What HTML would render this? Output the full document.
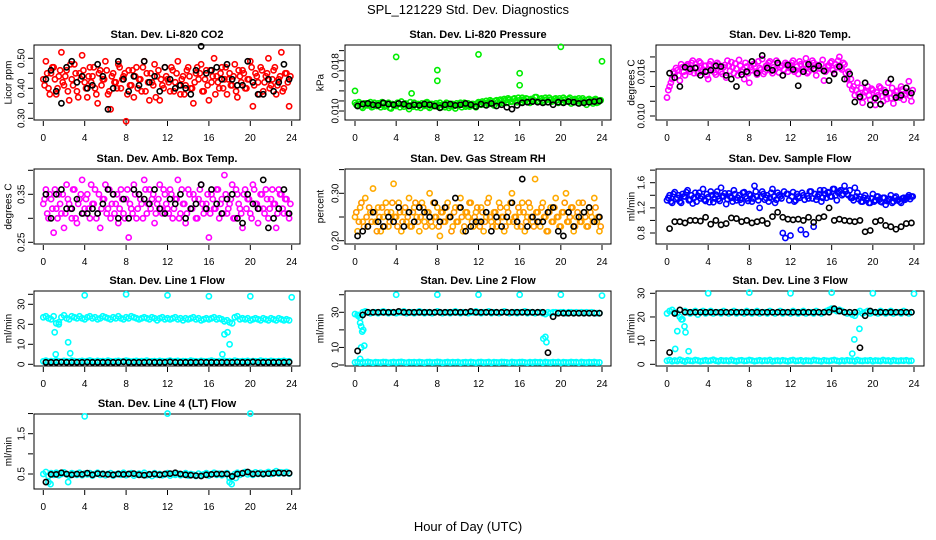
<!DOCTYPE html>
<html><head><meta charset="utf-8"><style>
html,body{margin:0;padding:0;background:#fff;}
svg{display:block;font-family:"Liberation Sans",sans-serif;}
</style></head><body>
<svg id="chart" width="936" height="540" viewBox="0 0 936 540" xmlns="http://www.w3.org/2000/svg">
<rect x="0" y="0" width="936" height="540" fill="#fff"/>
<text x="468" y="14" text-anchor="middle" font-size="13">SPL_121229  Std. Dev. Diagnostics</text>
<text x="468" y="531" text-anchor="middle" font-size="13">Hour of Day (UTC)</text>
</svg>
<script>
const hours = [0,4,8,12,16,20,24];
// CO2
const co2Color = [0.43,0.49,0.40,0.45,0.47,0.38,0.44,0.52,0.41,0.46,0.36,0.43,0.48,0.39,0.45,0.51,0.42,0.37,0.47,0.44,0.40,0.35,0.46,0.43,0.49,0.38,0.33,0.45,0.42,0.48,0.40,0.44,0.29,0.46,0.41,0.37,0.47,0.43,0.39,0.49,0.45,0.36,0.42,0.48,0.44,0.36,0.41,0.47,0.43,0.39,0.46,0.42,0.49,0.38,0.44,0.41,0.47,0.40,0.35,0.45,0.43,0.48,0.39,0.46,0.36,0.42,0.50,0.44,0.40,0.47,0.43,0.38,0.45,0.41,0.48,0.37,0.44,0.46,0.40,0.43,0.49,0.34,0.45,0.42,0.47,0.39,0.44,0.50,0.41,0.46,0.38,0.43,0.52,0.40,0.45,0.34];
const co2Color2 = [0.41,0.45,0.38,0.47,0.43,0.40,0.46,0.42,0.44,0.39,0.48,0.41,0.45,0.37,0.43,0.46,0.40,0.44,0.42,0.47,0.38,0.45,0.41,0.43,0.46,0.39,0.44,0.42,0.40,0.47,0.43,0.45,0.38,0.41,0.46,0.44,0.40,0.43,0.47,0.39,0.42,0.45,0.41,0.37,0.46,0.43,0.40,0.44,0.42,0.47,0.39,0.45,0.41,0.43,0.38,0.46,0.44,0.40,0.42,0.47,0.45,0.39,0.43,0.41,0.46,0.44,0.38,0.42,0.45,0.40,0.47,0.43,0.41,0.44,0.39,0.46,0.42,0.45,0.40,0.43,0.47,0.41,0.44,0.38,0.46,0.42,0.45,0.40,0.43,0.47,0.41,0.44,0.39,0.45,0.42,0.44];
const co2Black = [0.43,0.46,0.39,0.35,0.47,0.49,0.42,0.44,0.40,0.41,0.48,0.44,0.33,0.40,0.49,0.43,0.39,0.44,0.41,0.49,0.42,0.44,0.39,0.47,0.43,0.40,0.41,0.40,0.38,0.46,0.54,0.45,0.46,0.47,0.43,0.48,0.43,0.41,0.41,0.49,0.42,0.38,0.38,0.43,0.39,0.42,0.48,0.43];
// Pressure
const presColor = [0.0113,0.0108,0.0111,0.0105,0.0112,0.0109,0.0114,0.0107,0.0110,0.0112,0.0106,0.0111,0.0109,0.0113,0.0104,0.0110,0.0108,0.0112,0.0115,0.0107,0.0111,0.0103,0.0109,0.0113,0.0106,0.0110,0.0112,0.0108,0.0114,0.0105,0.0111,0.0109,0.0107,0.0113,0.0110,0.0106,0.0112,0.0108,0.0111,0.0104,0.0109,0.0113,0.0110,0.0107,0.0112,0.0108,0.0111,0.0106,0.0114,0.0110,0.0113,0.0116,0.0111,0.0115,0.0109,0.0117,0.0112,0.0116,0.0119,0.0113,0.0118,0.0115,0.0120,0.0114,0.0117,0.0121,0.0116,0.0119,0.0113,0.0118,0.0122,0.0115,0.0119,0.0117,0.0121,0.0114,0.0118,0.0116,0.0120,0.0113,0.0117,0.0121,0.0115,0.0119,0.0112,0.0118,0.0116,0.0120,0.0114,0.0117,0.0110,0.0119,0.0115,0.0118,0.0113,0.0116];
const presColor2 = [0.0110,0.0114,0.0107,0.0112,0.0109,0.0111,0.0106,0.0113,0.0108,0.0110,0.0114,0.0107,0.0112,0.0105,0.0111,0.0109,0.0113,0.0106,0.0110,0.0112,0.0108,0.0114,0.0107,0.0110,0.0111,0.0105,0.0109,0.0113,0.0107,0.0111,0.0108,0.0112,0.0110,0.0106,0.0109,0.0113,0.0105,0.0111,0.0108,0.0112,0.0110,0.0106,0.0113,0.0109,0.0107,0.0111,0.0108,0.0112,0.0111,0.0115,0.0110,0.0113,0.0117,0.0112,0.0116,0.0114,0.0118,0.0113,0.0117,0.0120,0.0115,0.0119,0.0116,0.0121,0.0114,0.0118,0.0120,0.0115,0.0119,0.0117,0.0122,0.0116,0.0120,0.0114,0.0118,0.0121,0.0115,0.0119,0.0117,0.0120,0.0114,0.0118,0.0116,0.0121,0.0115,0.0119,0.0113,0.0117,0.0120,0.0115,0.0118,0.0116,0.0112,0.0119,0.0114,0.0117];
const presBlack = [0.0108,0.0111,0.0112,0.0110,0.0109,0.0113,0.0111,0.0110,0.0112,0.0111,0.0108,0.0110,0.0109,0.0111,0.0110,0.0108,0.0105,0.0110,0.0111,0.0109,0.0110,0.0112,0.0110,0.0107,0.0111,0.0109,0.0112,0.0108,0.0110,0.0106,0.0103,0.0109,0.0113,0.0114,0.0115,0.0114,0.0113,0.0114,0.0110,0.0114,0.0113,0.0115,0.0114,0.0112,0.0113,0.0114,0.0115,0.0116];
const presOutHours = [0,4,5.5,8,8,12,16,16,20,24];
const presOutVals = [0.0132,0.0186,0.0128,0.0165,0.0148,0.0190,0.0160,0.0141,0.0202,0.0179];
// Li-820 Temp
const tempColor = [0.0125,0.0140,0.0150,0.0158,0.0162,0.0148,0.0166,0.0155,0.0170,0.0160,0.0175,0.0165,0.0158,0.0172,0.0163,0.0168,0.0150,0.0174,0.0162,0.0156,0.0170,0.0160,0.0166,0.0152,0.0168,0.0173,0.0158,0.0164,0.0176,0.0160,0.0150,0.0167,0.0145,0.0162,0.0171,0.0156,0.0165,0.0177,0.0160,0.0169,0.0174,0.0158,0.0163,0.0170,0.0166,0.0155,0.0172,0.0160,0.0168,0.0175,0.0162,0.0157,0.0170,0.0164,0.0178,0.0160,0.0167,0.0172,0.0155,0.0165,0.0170,0.0148,0.0162,0.0168,0.0174,0.0158,0.0166,0.0180,0.0163,0.0170,0.0150,0.0142,0.0136,0.0128,0.0145,0.0125,0.0118,0.0132,0.0140,0.0122,0.0135,0.0115,0.0128,0.0138,0.0120,0.0130,0.0145,0.0124,0.0117,0.0133,0.0126,0.0140,0.0122,0.0130,0.0147,0.0120];
const tempColor2 = [0.0135,0.0145,0.0160,0.0165,0.0155,0.0170,0.0160,0.0168,0.0163,0.0172,0.0158,0.0166,0.0174,0.0160,0.0168,0.0155,0.0170,0.0164,0.0159,0.0172,0.0166,0.0157,0.0169,0.0175,0.0161,0.0166,0.0171,0.0155,0.0168,0.0163,0.0172,0.0158,0.0166,0.0170,0.0160,0.0174,0.0163,0.0157,0.0168,0.0172,0.0161,0.0166,0.0175,0.0159,0.0168,0.0163,0.0170,0.0165,0.0172,0.0160,0.0167,0.0174,0.0163,0.0170,0.0158,0.0168,0.0175,0.0162,0.0169,0.0164,0.0176,0.0160,0.0168,0.0172,0.0162,0.0170,0.0175,0.0165,0.0172,0.0158,0.0160,0.0150,0.0140,0.0135,0.0130,0.0138,0.0126,0.0134,0.0128,0.0137,0.0125,0.0132,0.0140,0.0127,0.0135,0.0123,0.0131,0.0138,0.0128,0.0134,0.0125,0.0136,0.0129,0.0133,0.0127,0.0135];
const tempBlack = [0.0158,0.0152,0.0140,0.0166,0.0164,0.0165,0.0155,0.0160,0.0162,0.0168,0.0167,0.0155,0.0150,0.0140,0.0156,0.0160,0.0174,0.0158,0.0182,0.0165,0.0162,0.0172,0.0155,0.0169,0.0163,0.0141,0.0160,0.0170,0.0164,0.0168,0.0161,0.0148,0.0157,0.0167,0.0150,0.0157,0.0119,0.0126,0.0145,0.0115,0.0124,0.0116,0.0132,0.0150,0.0125,0.0128,0.0138,0.0131];
// Amb box temp
const ambColor = [0.33,0.36,0.30,0.34,0.27,0.32,0.35,0.31,0.28,0.37,0.33,0.30,0.36,0.29,0.34,0.38,0.32,0.35,0.30,0.33,0.36,0.31,0.28,0.34,0.37,0.32,0.30,0.35,0.33,0.29,0.36,0.31,0.34,0.26,0.32,0.37,0.30,0.35,0.33,0.38,0.31,0.36,0.34,0.29,0.33,0.37,0.31,0.35,0.32,0.36,0.30,0.34,0.38,0.31,0.33,0.29,0.36,0.32,0.35,0.30,0.34,0.37,0.31,0.33,0.26,0.35,0.32,0.36,0.30,0.34,0.39,0.31,0.33,0.37,0.30,0.35,0.32,0.28,0.36,0.34,0.31,0.37,0.33,0.29,0.35,0.32,0.36,0.30,0.34,0.33,0.28,0.36,0.35,0.31,0.34,0.30];
const ambColor2 = [0.34,0.31,0.35,0.32,0.36,0.30,0.33,0.35,0.31,0.34,0.32,0.36,0.30,0.33,0.35,0.31,0.34,0.32,0.37,0.33,0.30,0.35,0.32,0.34,0.31,0.36,0.33,0.31,0.35,0.32,0.34,0.30,0.36,0.33,0.31,0.35,0.32,0.34,0.30,0.36,0.33,0.32,0.35,0.31,0.34,0.32,0.36,0.33,0.31,0.35,0.32,0.34,0.30,0.36,0.33,0.31,0.35,0.32,0.34,0.30,0.36,0.33,0.32,0.35,0.31,0.34,0.32,0.36,0.33,0.31,0.35,0.32,0.34,0.30,0.36,0.33,0.31,0.35,0.32,0.34,0.30,0.36,0.33,0.32,0.35,0.31,0.34,0.32,0.36,0.33,0.31,0.35,0.32,0.34,0.31,0.33];
const ambBlack = [0.35,0.30,0.35,0.36,0.32,0.32,0.34,0.31,0.31,0.32,0.31,0.33,0.36,0.35,0.30,0.34,0.30,0.36,0.35,0.34,0.33,0.36,0.32,0.31,0.34,0.33,0.35,0.30,0.32,0.33,0.37,0.32,0.36,0.33,0.31,0.34,0.35,0.30,0.29,0.35,0.33,0.32,0.38,0.28,0.30,0.32,0.36,0.31];
// RH
const rhColor = [0.25,0.22,0.27,0.24,0.29,0.23,0.26,0.31,0.24,0.27,0.22,0.25,0.28,0.23,0.26,0.32,0.25,0.28,0.22,0.26,0.24,0.29,0.23,0.27,0.25,0.22,0.28,0.24,0.26,0.30,0.23,0.25,0.27,0.21,0.26,0.24,0.28,0.25,0.23,0.27,0.24,0.29,0.22,0.26,0.25,0.28,0.23,0.26,0.24,0.27,0.22,0.25,0.29,0.24,0.26,0.23,0.28,0.25,0.22,0.27,0.24,0.30,0.25,0.23,0.26,0.28,0.22,0.25,0.27,0.24,0.33,0.26,0.23,0.28,0.25,0.22,0.27,0.24,0.29,0.25,0.23,0.26,0.30,0.24,0.27,0.22,0.25,0.28,0.24,0.26,0.23,0.27,0.25,0.29,0.24,0.22];
const rhColor2 = [0.26,0.24,0.28,0.23,0.25,0.27,0.24,0.26,0.22,0.25,0.27,0.23,0.26,0.24,0.28,0.25,0.23,0.26,0.24,0.27,0.25,0.23,0.26,0.28,0.24,0.25,0.27,0.23,0.26,0.24,0.28,0.25,0.23,0.26,0.24,0.27,0.25,0.22,0.26,0.24,0.27,0.25,0.23,0.26,0.28,0.24,0.25,0.27,0.23,0.26,0.24,0.28,0.25,0.23,0.26,0.24,0.27,0.25,0.23,0.26,0.28,0.24,0.25,0.27,0.23,0.26,0.24,0.28,0.25,0.23,0.26,0.24,0.27,0.25,0.22,0.26,0.24,0.27,0.25,0.23,0.26,0.28,0.24,0.25,0.27,0.23,0.26,0.24,0.28,0.25,0.23,0.26,0.24,0.27,0.25,0.23];
const rhBlack = [0.21,0.22,0.23,0.26,0.24,0.23,0.25,0.24,0.27,0.23,0.26,0.24,0.27,0.26,0.25,0.28,0.24,0.27,0.25,0.29,0.27,0.22,0.23,0.24,0.24,0.26,0.22,0.25,0.23,0.25,0.28,0.24,0.33,0.23,0.25,0.24,0.24,0.26,0.27,0.22,0.21,0.26,0.23,0.25,0.26,0.27,0.24,0.25];
// Sample flow
const sfColor = [1.32,1.40,1.28,1.45,1.36,1.30,1.42,1.38,1.48,1.33,1.27,1.44,1.39,1.35,1.50,1.31,1.37,1.46,1.29,1.41,1.34,1.52,1.38,1.26,1.43,1.36,1.48,1.32,1.40,1.28,1.45,1.35,1.42,1.30,1.55,1.38,1.20,1.46,1.33,1.40,1.36,1.50,1.28,1.44,1.38,0.80,0.72,1.42,0.76,1.45,1.32,1.38,0.85,1.40,0.78,1.35,1.46,0.90,1.33,1.42,1.30,1.48,1.36,1.44,1.38,1.50,1.32,1.46,1.40,1.55,1.42,1.48,1.36,1.52,1.44,1.38,1.30,1.40,1.35,1.28,1.42,1.32,1.38,1.30,1.36,1.25,1.34,1.40,1.30,1.38,1.33,1.28,1.36,1.35,1.40,1.38];
const sfColor2 = [1.36,1.30,1.42,1.34,1.40,1.28,1.38,1.45,1.32,1.40,1.36,1.30,1.44,1.38,1.33,1.42,1.29,1.40,1.35,1.46,1.31,1.39,1.43,1.34,1.38,1.30,1.42,1.36,1.33,1.44,1.38,1.31,1.40,1.35,1.46,1.32,1.38,1.42,1.36,1.30,1.44,1.38,1.33,1.40,1.35,1.46,1.42,1.32,1.38,1.30,1.42,1.36,1.44,1.33,1.39,1.46,1.35,1.42,1.38,1.48,1.36,1.42,1.45,1.38,1.50,1.40,1.44,1.48,1.42,1.46,1.40,1.36,1.32,1.38,1.34,1.30,1.36,1.32,1.28,1.35,1.30,1.38,1.33,1.29,1.36,1.31,1.34,1.28,1.36,1.32,1.30,1.35,1.33,1.37,1.34,1.38];
const sfBlack = [0.87,0.98,0.98,0.96,1.00,1.00,0.99,1.05,0.94,1.00,0.93,0.95,1.04,1.03,0.98,1.00,0.96,0.98,1.00,0.95,1.06,1.13,1.05,1.02,1.01,1.02,1.00,1.05,0.97,1.04,1.06,1.20,1.00,1.02,1.00,0.99,0.98,1.00,0.82,0.84,0.98,1.00,0.92,0.90,0.86,0.90,0.95,0.96];
// Line 1
const l1High = [23.5,24,23,22.5,24,20.5,21,23.5,24.5,23,22.5,24,23.5,23,24,23,22.5,23.5,24,23,23.5,22.5,23,24,23.5,23,22.5,23.5,23,24,23,22.5,23.5,23,24,23.5,23,22.5,23,23.5,23,22.5,23.5,23,22,23,23.5,22.5,23,22.5,23,23.5,22.5,23,22,23,22.5,23,23.5,22.5,23,22,22.5,23,22.5,23,23.5,22.5,23,22.5,21.5,22,21,20.5,23.5,24,22.5,23,22.5,23,22,22.5,23,22.5,22,23,22.5,22,23,22.5,22,23,22.5,22,22.5,22];
const l1Low = [1.5,1.8,1.3,1.6,1.4,1.9,1.5,1.2,1.7,1.5,1.4,1.8,1.6,1.3,1.5,1.7,1.4,1.6,1.9,1.5,1.3,1.7,1.5,1.6,1.4,1.8,1.5,1.3,1.6,1.7,1.4,1.5,1.8,1.6,1.3,1.5,1.7,1.4,1.6,1.5,1.8,1.3,1.5,1.6,1.4,1.7,1.5,1.3,1.6,1.8,1.4,1.5,1.7,1.3,1.6,1.5,1.4,1.8,1.6,1.5,1.3,1.7,1.5,1.4,1.6,1.8,1.5,1.3,1.6,1.4,1.7,1.5,1.6,1.3,1.8,1.5,1.4,1.6,1.5,1.7,1.3,1.6,1.5,1.4,1.8,1.5,1.6,1.3,1.7,1.5,1.4,1.6,1.5,1.7,1.4,1.5];
const l1Black = [1.0,1.0,1.0,1.1,1.0,1.0,1.0,1.0,1.1,1.0,1.0,1.0,1.0,1.0,1.0,1.2,1.0,1.0,1.0,1.0,1.1,1.0,1.0,1.0,1.2,1.0,1.0,1.0,1.0,1.0,1.1,1.0,1.0,1.0,1.0,1.0,1.0,1.1,1.0,1.0,1.2,1.0,1.0,1.0,1.0,1.0,1.0,1.1];
const l1OutHours = [4,8,12,16,20,24,1.1,1.2,1.5,2.4,2.6,17.3,17.5,17.8,18];
const l1OutVals = [34.5,35,34.5,34,34,33.5,16,5,20,11,5.5,5,15,16,10];
// Line 2
const l2High = [29,28.5,27,30,30.5,30,29.5,30,30,29.5,30,30.5,30,29.5,30,30,29.5,30,30,30.5,29.5,30,30,29.5,30,30.5,30,29.5,30,30,29.5,30,30.5,30,29.5,30,30,29.5,30,30.5,30,29.5,30,30,29.5,30,30,30.5,30,29.5,30,30,30.5,29.5,30,30,29.5,30,30.5,30,29.5,30,30,29.5,30,30,30.5,29.5,30,30,29.5,30,30,29.5,29,30,29.5,30,30,29.5,30,30,29.5,30,30,29.5,30,29.5,30,29.5,30,29.5,30,29.5,29.5,29.5];
const l2Low = [1.5,1.7,1.3,1.6,1.4,1.8,1.5,1.3,1.6,1.5,1.4,1.7,1.6,1.3,1.5,1.7,1.4,1.6,1.8,1.5,1.3,1.6,1.5,1.6,1.4,1.7,1.5,1.3,1.6,1.7,1.4,1.5,1.8,1.6,1.3,1.5,1.7,1.4,1.6,1.5,1.7,1.3,1.5,1.6,1.4,1.7,1.5,1.3,1.6,1.7,1.4,1.5,1.7,1.3,1.6,1.5,1.4,1.7,1.6,1.5,1.3,1.7,1.5,1.4,1.6,1.7,1.5,1.3,1.6,1.4,1.7,1.5,1.6,1.3,1.7,1.5,1.4,1.6,1.5,1.7,1.3,1.6,1.5,1.4,1.7,1.5,1.6,1.3,1.7,1.5,1.4,1.6,1.5,1.7,1.4,1.5];
const l2Black = [8,28.5,30,30,30,30,30,30,30.5,30,30,30,30,30,30,30,30,30,30,30,30,30,30.5,30,30,30,30,30,30,30,30,30,30,30,30,30,30,7,27.5,29.5,29.5,29.5,29.5,29.5,29.5,29.5,29.5,29.5];
const l2OutHours = [0.3,0.5,0.6,0.7,0.8,0.6,0.9,0.5,4,8,12,16,20,24,18.3,18.5,18.6];
const l2OutVals = [28,24,22,19,20,10,11,3.5,40,40,40,40,40,39.5,15,16,13];
// Line 3
const l3High = [21.5,22.5,23,22,21.5,20,19,22.5,22,21.5,22,22.5,21,22,22.5,21.5,22,22.5,21.5,22,22,21.5,22.5,22,21.5,22,22.5,21.5,22,22,21.5,22.5,22,21.5,22,22.5,21.5,22,22,21.5,22.5,22,21.5,22,22.5,21.5,22,22,21.5,22.5,22,21.5,22,22.5,21.5,22,22,21.5,22.5,22,21.5,22,22.5,23,23.5,23,22.5,23,22.5,22,21.5,22,21,20.5,22,22.5,21.5,22,22.5,21.5,22,22,21.5,22.5,22,21.5,22,22.5,21.5,22,22,21.5,22.5,22,21.5,22];
const l3Low = [1.5,1.8,1.3,1.6,1.4,1.9,1.5,1.2,1.7,1.5,1.4,1.8,1.6,1.3,1.5,1.7,1.4,1.6,1.9,1.5,1.3,1.7,1.5,1.6,1.4,1.8,1.5,1.3,1.6,1.7,1.4,1.5,1.8,1.6,1.3,1.5,1.7,1.4,1.6,1.5,1.8,1.3,1.5,1.6,1.4,1.7,1.5,1.3,1.6,1.8,1.4,1.5,1.7,1.3,1.6,1.5,1.4,1.8,1.6,1.5,1.3,1.7,1.5,1.4,1.6,1.8,1.5,1.3,1.6,1.4,1.7,1.5,1.6,1.3,1.8,1.5,1.4,1.6,1.5,1.7,1.3,1.6,1.5,1.4,1.8,1.5,1.6,1.3,1.7,1.5,1.4,1.6,1.5,1.7,1.4,1.5];
const l3Black = [5,21.5,23,22,22,22,22,22,22,22,22,22,22,22,22,22,22,22,22,22,22,22,22,22,22,22,22,22,22,22,22,22,23.5,22.5,22,22,22,7,20.5,22.5,22,22,22,22,22,22,22,22];
const l3OutHours = [4,8,12,16,20,24,0.8,1,1.4,1.7,1.8,2.1,18,18.2,18.7];
const l3OutVals = [30,30.3,30,30.3,30,29.8,6.5,14,19,16,13.5,5.5,4.5,10.5,15];
// Line 4
const l4Color = [0.50,0.55,0.45,0.52,0.48,0.53,0.47,0.50,0.54,0.49,0.46,0.52,0.50,0.48,0.53,0.47,0.51,0.49,0.52,0.46,0.50,0.53,0.48,0.51,0.47,0.50,0.52,0.46,0.49,0.51,0.48,0.53,0.47,0.50,0.52,0.46,0.49,0.51,0.48,0.53,0.47,0.50,0.45,0.52,0.48,0.50,0.47,0.49,0.52,0.46,0.50,0.48,0.51,0.47,0.49,0.52,0.46,0.50,0.48,0.45,0.51,0.47,0.49,0.52,0.46,0.50,0.53,0.48,0.51,0.47,0.50,0.52,0.40,0.45,0.50,0.53,0.48,0.51,0.55,0.49,0.52,0.48,0.54,0.50,0.53,0.49,0.52,0.55,0.50,0.53,0.57,0.51,0.54,0.52,0.55,0.51];
const l4Black = [0.30,0.49,0.49,0.53,0.50,0.48,0.50,0.49,0.52,0.48,0.51,0.50,0.49,0.48,0.50,0.49,0.50,0.51,0.48,0.47,0.49,0.50,0.48,0.50,0.51,0.53,0.50,0.48,0.47,0.46,0.45,0.48,0.49,0.50,0.50,0.50,0.44,0.50,0.52,0.55,0.50,0.51,0.50,0.51,0.52,0.53,0.52,0.52];
const l4OutHours = [4,12,20,0.5,0.7,2.4,18,18.2,18.6];
const l4OutVals = [1.93,2.0,2.0,0.30,0.25,0.30,0.30,0.25,0.40];

const svg = document.getElementById('chart');
const NS = 'http://www.w3.org/2000/svg';
const colL = [34,345,656], colR = [300,611,924], colX0 = [43.3,355,667], colX24 = [291.7,602,914];
const rowT = [45,169,291,414], rowB = [120,244,366,489];
const tickLx = [21,335,641], titleLx = [8,320,631];

function mk(tag, attrs, parent){
  const e = document.createElementNS(NS, tag);
  for (const k in attrs) e.setAttribute(k, attrs[k]);
  (parent||svg).appendChild(e);
  return e;
}
function panel(p){
  const g = mk('g', {});
  
  
  const c = p.col, r = p.row;
  const L = colL[c], R = colR[c], T = rowT[r], B = rowB[r];
  const xs = h => colX0[c] + (colX24[c]-colX0[c]) * h / 24;
  const ys = v => p.ref[0][1] + (v - p.ref[0][0]) * (p.ref[1][1]-p.ref[0][1]) / (p.ref[1][0]-p.ref[0][0]);
  const t = mk('text', {x:(L+R)/2, y:T-7, 'text-anchor':'middle', 'font-size':11, 'font-weight':'bold'}, g);
  t.textContent = p.title;
  
  
  const box = mk('rect', {x:L, y:T, width:R-L, height:B-T, fill:'none', stroke:'#000', 'stroke-width':1}, g);
  
  
  hours.forEach(h => {
    mk('line', {x1:xs(h), x2:xs(h), y1:B+1, y2:B+6, stroke:'#000'}, g);
    const tl = mk('text', {x:xs(h), y:B+21, 'text-anchor':'middle', 'font-size':10}, g);
    tl.textContent = h;
    
    
  });
  p.ticks.forEach(v => mk('line', {x1:L-6, x2:L-1, y1:ys(v), y2:ys(v), stroke:'#000'}, g));
  p.labels.forEach((v,i) => {
    const y = ys(v);
    const tl = mk('text', {x:tickLx[c], y:y, 'text-anchor':'middle', 'font-size':10, transform:`rotate(-90 ${tickLx[c]} ${y})`, dy:'0.35em'}, g);
    tl.textContent = p.labelText[i];
    
    
  });
  const yl = mk('text', {x:titleLx[c], y:(T+B)/2, 'text-anchor':'middle', 'font-size':10, transform:`rotate(-90 ${titleLx[c]} ${(T+B)/2})`, dy:'0.35em'}, g);
  yl.textContent = p.ylabel;
  
  
  const dots = (vals, step, off, color, nm) => {
    vals.forEach((v,i) => {
      const d = mk('circle', {cx:xs(off + i*step), cy:ys(v), r:2.6, fill:'none', stroke:color, 'stroke-width':1.6}, g);
      
      
    });
  };
  const outs = (hs, vs, color, nm) => {
    hs.forEach((h,i) => {
      const d = mk('circle', {cx:xs(h), cy:ys(vs[i]), r:2.6, fill:'none', stroke:color, 'stroke-width':1.6}, g);
      
      
    });
  };
  p.series.forEach(s => {
    if (s.hours) outs(s.hours, s.vals, s.color, s.nm);
    else dots(s.vals, 24/(s.vals.length), s.off, s.color, s.nm);
  });
}
const CY = '#00ffff';
panel({name:'panel-co2', col:0,row:0,title:'Stan. Dev. Li-820 CO2', ylabel:'Licor ppm', ref:[[0.30,118.3],[0.50,58.3]], ticks:[0.30,0.35,0.40,0.45,0.50], labels:[0.30,0.40,0.50], labelText:['0.30','0.40','0.50'],
  series:[{vals:co2Color,off:0,color:'#ff0000',nm:'co2-point'},{vals:co2Color2,off:0.125,color:'#ff0000',nm:'co2-point'},{vals:co2Black,off:0.25,color:'#000',nm:'co2-black-point'}]});
panel({name:'panel-pressure', col:1,row:0,title:'Stan. Dev. Li-820 Pressure', ylabel:'kPa', ref:[[0.010,111],[0.018,60.7]], ticks:[0.010,0.0116,0.0132,0.0148,0.0164,0.0180,0.0196], labels:[0.010,0.0172], labelText:['0.010','0.018'],
  series:[{vals:presColor,off:0,color:'#00ee00',nm:'pressure-point'},{vals:presColor2,off:0.125,color:'#00ee00',nm:'pressure-point'},{hours:presOutHours,vals:presOutVals,color:'#00ee00',nm:'pressure-outlier'},{vals:presBlack,off:0.25,color:'#000',nm:'pressure-black-point'}]});
panel({name:'panel-temp', col:2,row:0,title:'Stan. Dev. Li-820 Temp.', ylabel:'degrees C', ref:[[0.010,116],[0.016,71.7]], ticks:[0.010,0.012,0.014,0.016,0.018], labels:[0.010,0.016], labelText:['0.010','0.016'],
  series:[{vals:tempColor,off:0,color:'#ff00ff',nm:'temp-point'},{vals:tempColor2,off:0.125,color:'#ff00ff',nm:'temp-point'},{vals:tempBlack,off:0.25,color:'#000',nm:'temp-black-point'}]});
panel({name:'panel-amb-temp', col:0,row:1,title:'Stan. Dev. Amb. Box Temp.', ylabel:'degrees C', ref:[[0.25,242.3],[0.35,194.3]], ticks:[0.25,0.30,0.35,0.40], labels:[0.25,0.35], labelText:['0.25','0.35'],
  series:[{vals:ambColor,off:0,color:'#ff00ff',nm:'amb-point'},{vals:ambColor2,off:0.125,color:'#ff00ff',nm:'amb-point'},{vals:ambBlack,off:0.25,color:'#000',nm:'amb-black-point'}]});
panel({name:'panel-rh', col:1,row:1,title:'Stan. Dev. Gas Stream RH', ylabel:'percent', ref:[[0.20,240.7],[0.30,193.3]], ticks:[0.20,0.25,0.30,0.35], labels:[0.20,0.30], labelText:['0.20','0.30'],
  series:[{vals:rhColor,off:0,color:'#ffaa00',nm:'rh-point'},{vals:rhColor2,off:0.125,color:'#ff9900',nm:'rh-point'},{vals:rhBlack,off:0.25,color:'#000',nm:'rh-black-point'}]});
panel({name:'panel-sample-flow', col:2,row:1,title:'Stan. Dev. Sample Flow', ylabel:'ml/min', ref:[[0.8,233],[1.6,182.7]], ticks:[0.8,1.0,1.2,1.4,1.6,1.8], labels:[0.8,1.2,1.6], labelText:['0.8','1.2','1.6'],
  series:[{vals:sfColor,off:0,color:'#0000ff',nm:'sample-flow-point'},{vals:sfColor2,off:0.125,color:'#0000ff',nm:'sample-flow-point'},{vals:sfBlack,off:0.25,color:'#000',nm:'sample-flow-black-point'}]});
panel({name:'panel-line1', col:0,row:2,title:'Stan. Dev. Line 1 Flow', ylabel:'ml/min', ref:[[0,364.3],[30,304.3]], ticks:[0,10,20,30,35], labels:[0,10,20,30], labelText:['0','10','20','30'],
  series:[{vals:l1High,off:0,color:CY,nm:'line1-point'},{vals:l1Low,off:0,color:CY,nm:'line1-low-point'},{hours:l1OutHours,vals:l1OutVals,color:CY,nm:'line1-outlier'},{vals:l1Black,off:0.25,color:'#000',nm:'line1-black-point'}]});
panel({name:'panel-line2', col:1,row:2,title:'Stan. Dev. Line 2 Flow', ylabel:'ml/min', ref:[[0,365],[30,312.3]], ticks:[0,10,20,30,40], labels:[0,10,30], labelText:['0','10','30'],
  series:[{vals:l2High,off:0,color:CY,nm:'line2-point'},{vals:l2Low,off:0,color:CY,nm:'line2-low-point'},{hours:l2OutHours,vals:l2OutVals,color:CY,nm:'line2-outlier'},{vals:l2Black,off:0.25,color:'#000',nm:'line2-black-point'}]});
panel({name:'panel-line3', col:2,row:2,title:'Stan. Dev. Line 3 Flow', ylabel:'ml/min', ref:[[0,364.3],[30,293.3]], ticks:[0,10,20,30], labels:[0,10,20,30], labelText:['0','10','20','30'],
  series:[{vals:l3High,off:0,color:CY,nm:'line3-point'},{vals:l3Low,off:0,color:CY,nm:'line3-low-point'},{hours:l3OutHours,vals:l3OutVals,color:CY,nm:'line3-outlier'},{vals:l3Black,off:0.25,color:'#000',nm:'line3-black-point'}]});
panel({name:'panel-line4', col:0,row:3,title:'Stan. Dev. Line 4 (LT) Flow', ylabel:'ml/min', ref:[[0.5,474],[1.5,433.7]], ticks:[0.5,1.0,1.5,2.0], labels:[0.5,1.5], labelText:['0.5','1.5'],
  series:[{vals:l4Color,off:0,color:CY,nm:'line4-point'},{hours:l4OutHours,vals:l4OutVals,color:CY,nm:'line4-outlier'},{vals:l4Black,off:0.25,color:'#000',nm:'line4-black-point'}]});
</script>
</body></html>
